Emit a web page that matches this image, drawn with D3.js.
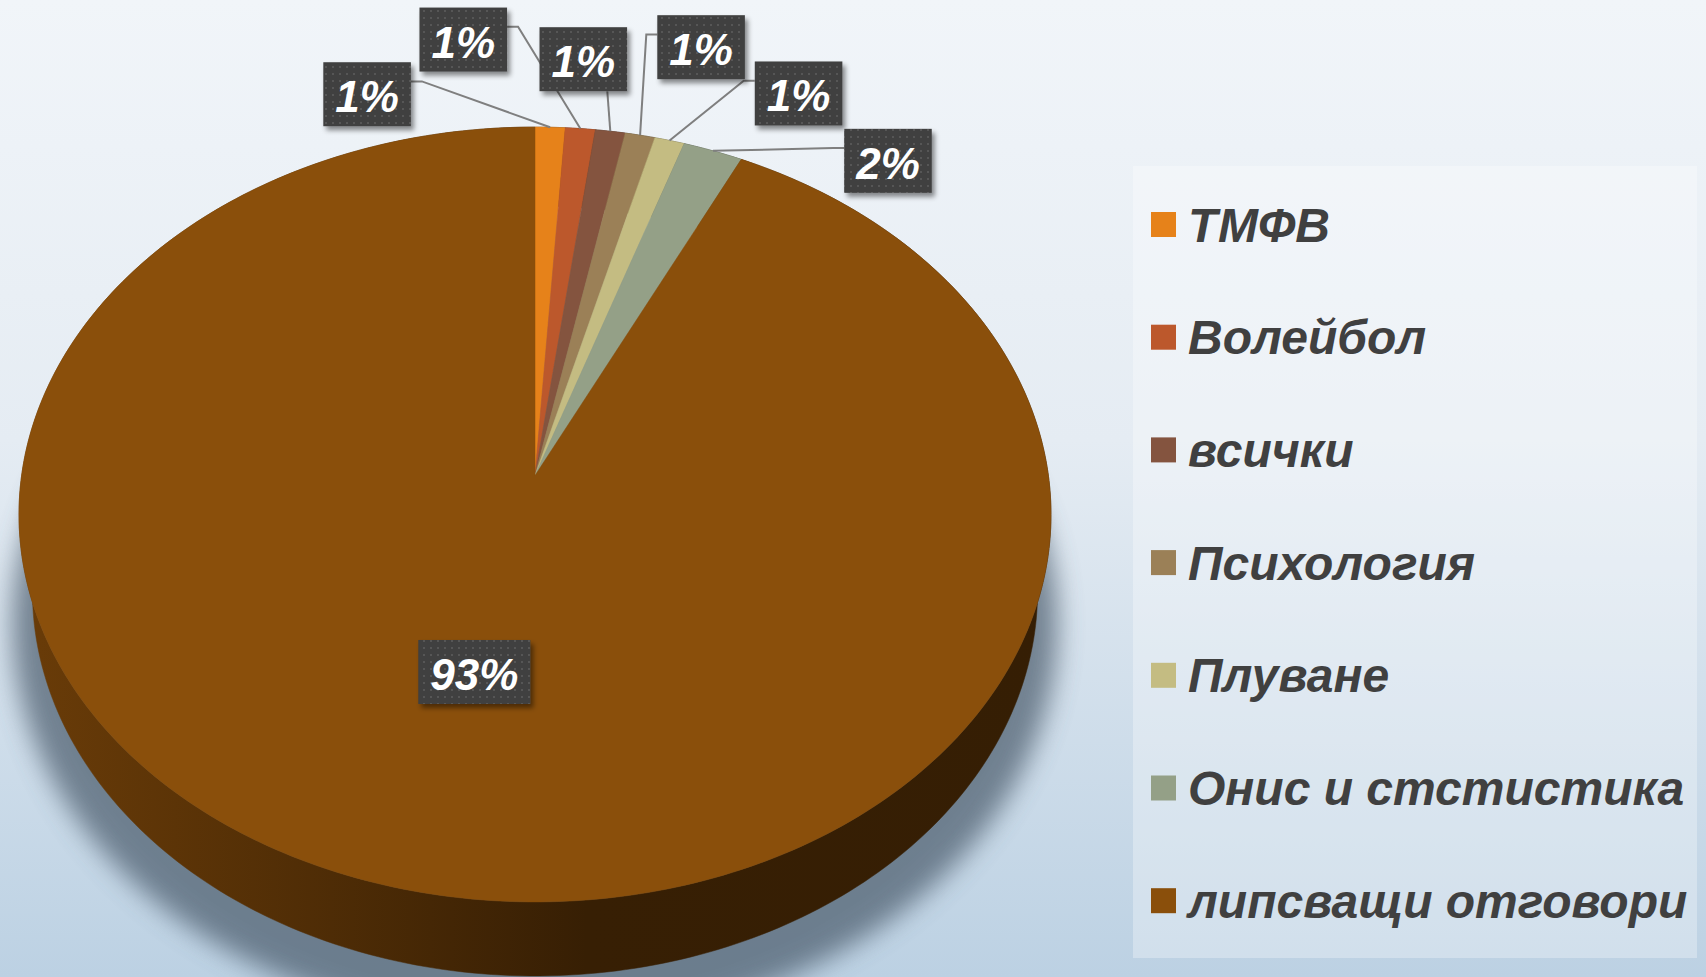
<!DOCTYPE html>
<html>
<head>
<meta charset="utf-8">
<script src="https://cdn.jsdelivr.net/npm/d3@7"></script>
<style>
html, body { margin: 0; padding: 0; overflow: hidden; }
svg { display: block; }
</style>
</head>
<body>
<div id="chart"></div>
<script>
// data
const categories = ["ТМФВ", "Волейбол", "всички", "Психология", "Плуване", "Онис и стстистика", "липсващи отговори"];
const values = [1, 1, 1, 1, 1, 2, 90];
const pctLabels = ["1%", "1%", "1%", "1%", "1%", "2%", "93%"];
const colors = ["#E6821A", "#BC582C", "#84543F", "#9B8057", "#C4BC82", "#94A087", "#8A4F0B"];

// where the label boxes sit, relative to the rim point of their slice (null = inside)
const labelOffsets = [[-183, -33], [-117, -89], [-27, -72], [61, -88], [129, -47], [175, 10], null];
const leaderSide = ["right", "right", "bottom", "left", "left", "left", null];

var width = 1706, height = 977;

var svg = d3.select("#chart")
  .append("svg")
    .attr("width", width)
    .attr("height", height);

var defs = svg.append("defs");

var bg = defs.append("linearGradient").attr("id", "bg")
  .attr("x1", 0).attr("y1", 0).attr("x2", 0).attr("y2", 1);
bg.append("stop").attr("offset", 0).attr("stop-color", "#F1F5F9");
bg.append("stop").attr("offset", 0.45).attr("stop-color", "#E5ECF3");
bg.append("stop").attr("offset", 1).attr("stop-color", "#BCD1E3");

svg.append("rect")
  .attr("width", width).attr("height", height)
  .attr("fill", "url(#bg)");

// 3d projection of the pie disc
var cx = 535, cy = 475.5;
var F = 3391, D = 1, R = 0.1514, T = 0.0354;
var alpha = Math.asin(0.747);

function project(phi, r, h) {
  var x = R * r * Math.sin(phi), z = R * r * Math.cos(phi);
  var sa = Math.sin(alpha), ca = Math.cos(alpha);
  var w = D + z * ca - h * sa;
  return [cx + F * x / w, cy - F * (z * sa + h * ca) / w];
}

function rim(a0, a1, r, h) {
  var n = Math.max(2, Math.ceil((a1 - a0) / (Math.PI / 180)));
  return d3.range(n + 1).map(function(i) { return project(a0 + (a1 - a0) * i / n, r, h); });
}

var line = d3.line().curve(d3.curveLinearClosed);

var pie = d3.pie().sort(null).value(function(d) { return d; });
var arcs = pie(values);

// shadow under the pie
defs.append("filter").attr("id", "blur")
  .attr("x", "-20%").attr("y", "-20%").attr("width", "140%").attr("height", "140%")
  .append("feGaussianBlur").attr("stdDeviation", 13);

svg.append("path")
  .attr("d", line(rim(0, 2 * Math.PI, 1.05, -T - 0.014)))
  .attr("fill", "#4a5a6a")
  .attr("opacity", 0.7)
  .attr("filter", "url(#blur)");

// side walls
var sideG = svg.append("g");
arcs.forEach(function(a, i) {
  var c = d3.color(colors[i]);
  var g = defs.append("linearGradient").attr("id", "side" + i)
    .attr("gradientUnits", "userSpaceOnUse")
    .attr("x1", cx - 516).attr("x2", cx + 516).attr("y1", 0).attr("y2", 0);
  g.append("stop").attr("offset", 0).attr("stop-color", c.darker(0.75));
  g.append("stop").attr("offset", 0.55).attr("stop-color", c.darker(2.6));
  g.append("stop").attr("offset", 1).attr("stop-color", c.darker(2.7));

  var top = rim(a.startAngle, a.endAngle, 1, 0);
  var bottom = rim(a.startAngle, a.endAngle, 1, -T).reverse();
  sideG.append("path")
    .attr("d", line(top.concat(bottom)))
    .attr("fill", "url(#side" + i + ")")
    .attr("stroke", "url(#side" + i + ")")
    .attr("stroke-width", 0.5);
});

// top face
svg.append("g").selectAll("path")
  .data(arcs)
  .enter()
  .append("path")
    .attr("d", function(a) {
      return line([project(0, 0, 0)].concat(rim(a.startAngle, a.endAngle, 1, 0)));
    })
    .attr("fill", function(a, i) { return colors[i]; })
    .attr("stroke", function(a, i) { return colors[i]; })
    .attr("stroke-width", 0.5);

// data labels
var pat = defs.append("pattern").attr("id", "dots")
  .attr("width", 7).attr("height", 7)
  .attr("patternUnits", "userSpaceOnUse");
pat.append("rect").attr("width", 7).attr("height", 7).attr("fill", "#404040");
pat.append("rect").attr("x", 3).attr("y", 3).attr("width", 2).attr("height", 2).attr("fill", "#575757");

var ds = defs.append("filter").attr("id", "boxShadow")
  .attr("x", "-20%").attr("y", "-20%").attr("width", "150%").attr("height", "150%");
ds.append("feDropShadow").attr("dx", 3).attr("dy", 4).attr("stdDeviation", 2.5)
  .attr("flood-color", "#000").attr("flood-opacity", 0.45);

var leaderG = svg.append("g");
var labelG = svg.append("g");
var boxH = 64;

arcs.forEach(function(a, i) {
  var mid = (a.startAngle + a.endAngle) / 2;
  var p = project(mid, 1, 0);
  var center = labelOffsets[i] ? [p[0] + labelOffsets[i][0], p[1] + labelOffsets[i][1]] : project(mid, 0.5, 0);

  var g = labelG.append("g");
  var txt = g.append("text")
    .text(pctLabels[i])
    .attr("font-family", "'Liberation Sans', Arial, sans-serif")
    .attr("font-weight", "bold")
    .attr("font-style", "italic")
    .attr("font-size", 44)
    .attr("fill", "white")
    .attr("text-anchor", "middle")
    .attr("x", center[0])
    .attr("y", center[1] + 18);
  var tw = txt.node().getComputedTextLength();
  var bw = tw + 24;
  var bx = center[0] - bw / 2, by = center[1] - boxH / 2;
  g.insert("rect", "text")
    .attr("x", bx).attr("y", by)
    .attr("width", bw).attr("height", boxH)
    .attr("fill", "url(#dots)")
    .attr("filter", "url(#boxShadow)");

  var side = leaderSide[i];
  if (!side) return;
  var pts;
  if (side == "bottom") {
    pts = [p, [p[0] - 3, by + boxH]];
  } else {
    var ax = side == "right" ? bx + bw : bx;
    var ay = by + 0.3 * boxH;
    var ex = side == "right" ? ax + 11 : ax - 11;
    pts = [p, [ex, ay], [ax, ay]];
  }
  leaderG.append("path")
    .attr("d", d3.line()(pts))
    .attr("fill", "none")
    .attr("stroke", "#7f7f7f")
    .attr("stroke-width", 2);
});

// legend
svg.append("rect")
  .attr("x", 1133).attr("y", 166)
  .attr("width", 564).attr("height", 792)
  .attr("fill", "white")
  .attr("opacity", 0.3);

var ly = d3.scalePoint()
  .domain(categories)
  .range([224.5, 900.7]);

var legend = svg.append("g").selectAll("g")
  .data(categories)
  .enter()
  .append("g")
    .attr("transform", function(d) { return "translate(1151," + ly(d) + ")"; });

legend.append("rect")
  .attr("x", 0).attr("y", -12.5)
  .attr("width", 25).attr("height", 25)
  .style("fill", function(d, i) { return colors[i]; });

legend.append("text")
  .text(function(d) { return d; })
  .attr("x", 37)
  .attr("y", 17)
  .attr("font-family", "'Liberation Sans', Arial, sans-serif")
  .attr("font-weight", "bold")
  .attr("font-style", "italic")
  .attr("font-size", 48)
  .style("fill", "#404040");
</script>
</body>
</html>
